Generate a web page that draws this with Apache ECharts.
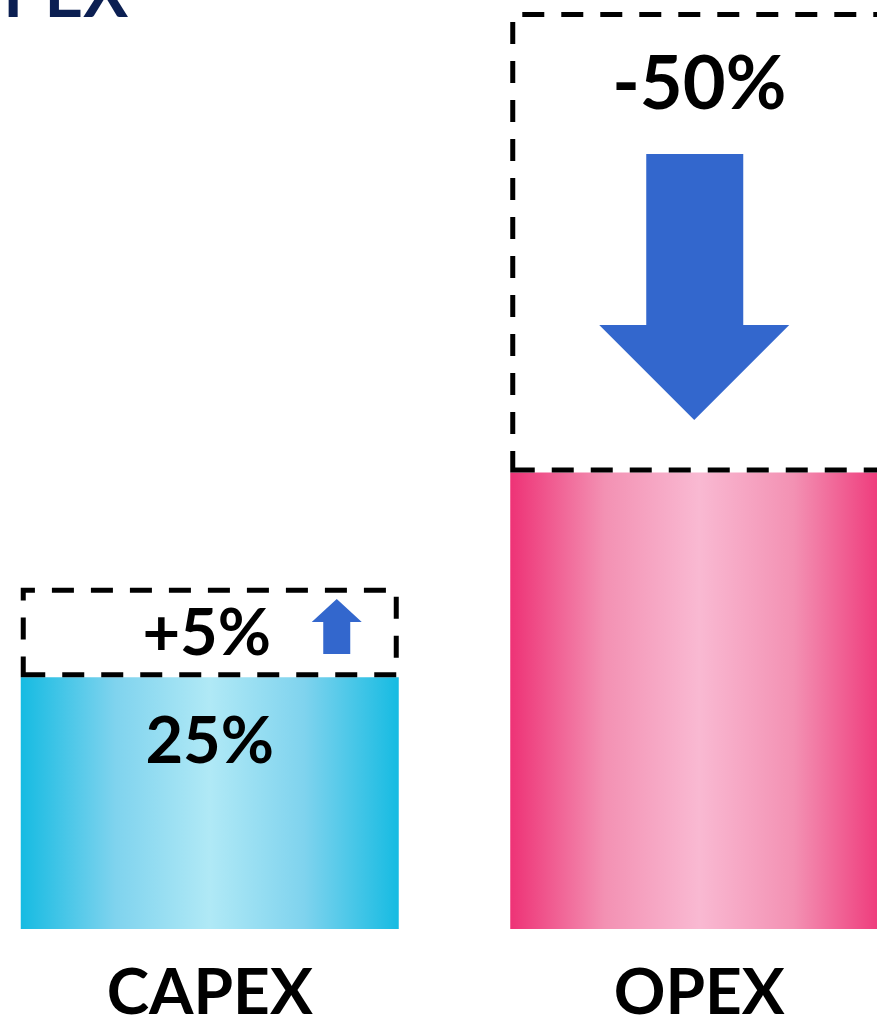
<!DOCTYPE html>
<html>
<head>
<meta charset="utf-8">
<script src="https://cdn.jsdelivr.net/npm/echarts@6/dist/echarts.min.js"></script>
<style>
html,body{margin:0;padding:0;background:#fff;overflow:hidden;width:877px;height:1025px;position:relative;}
#chart{position:absolute;left:-35px;top:0;width:979px;height:1025px;}
</style>
</head>
<body>
<div id="chart"></div>
<script>
// ---- data ----
const categories = ['CAPEX', 'OPEX'];
const barValues = [24.7, 44.8];          // filled bars
const barLabels = ['25%', ''];
const changeValues = [8.8, 45.2];        // dashed "change" boxes stacked on top
const changeLabels = ['+5%', '-50%'];
const arrowLevels = [29.7, 63.0];        // arrow centres (value axis)
const arrowDirections = ['up', 'down'];
const titleText = 'OPEX';

const FONT = 'Lato';
const gradients = [
  ['#16bbe2', '#7fd3ee', '#b0e9f6', '#7fd3ee', '#16bbe2'],
  ['#ee3276', '#f391b3', '#f9b9d2', '#f391b3', '#ee3276']
];
function grad(stops) {
  return new echarts.graphic.LinearGradient(0, 0, 1, 0,
    stops.map((c, i) => ({ offset: i / (stops.length - 1), color: c })));
}
const upPath = 'path://M25,0 L50,23 L38.5,23 L38.5,55 L11.5,55 L11.5,23 L0,23 Z';
const downPath = 'path://M47,0 L144,0 L144,171 L190,171 L95,266 L0,171 L47,171 Z';

const chart = echarts.init(document.getElementById('chart'), null, { renderer: 'canvas' });
chart.setOption({
  animation: false,
  backgroundColor: '#ffffff',
  title: {
    text: titleText,
    left: -16, top: -38, padding: 0,
    textStyle: { fontFamily: FONT, fontWeight: 'bold', fontSize: 67, color: '#0b1f52' }
  },
  grid: { left: 0, right: 0, top: 12, bottom: 90 },
  xAxis: {
    type: 'category',
    data: categories,
    axisLine: { show: false },
    axisTick: { show: false },
    axisLabel: { margin: 32, fontFamily: FONT, fontWeight: 'bold', fontSize: 64, color: '#000' }
  },
  yAxis: { type: 'value', min: 0, max: 90, show: false, splitLine: { show: false } },
  series: [
    {
      type: 'bar', stack: 'total', barWidth: 378,
      data: barValues.map((v, i) => ({
        value: v,
        itemStyle: { color: grad(gradients[i]) },
        label: {
          show: !!barLabels[i], formatter: barLabels[i], position: 'insideTop', distance: 32,
          fontFamily: FONT, fontWeight: 'bold', fontSize: 65, color: '#000'
        }
      }))
    },
    {
      type: 'bar', stack: 'total', barWidth: 378, z: 3,
      data: changeValues.map((v, i) => ({
        value: v,
        itemStyle: {
          color: 'rgba(255,255,255,0)', borderColor: '#000', borderWidth: 5,
          borderType: [22, 17]
        },
        label: i === 0 ? {
          show: true, formatter: changeLabels[i], position: 'inside', offset: [-3, 2],
          fontFamily: FONT, fontWeight: 'bold', fontSize: 65, color: '#000'
        } : {
          show: true, formatter: changeLabels[i], position: 'insideTop', distance: 36,
          fontFamily: FONT, fontWeight: 'bold', fontSize: 74, color: '#000'
        }
      }))
    },
    {
      type: 'scatter', z: 4,
      data: categories.map((c, i) => ({
        value: [c, arrowLevels[i]],
        symbol: arrowDirections[i] === 'up' ? upPath : downPath,
        symbolSize: arrowDirections[i] === 'up' ? [50, 55] : [190, 266],
        symbolOffset: arrowDirections[i] === 'up' ? [127, 0] : [-5, 0],
        itemStyle: { color: '#3367cd', opacity: 1 }
      }))
    }
  ]
});
</script>
</body>
</html>
